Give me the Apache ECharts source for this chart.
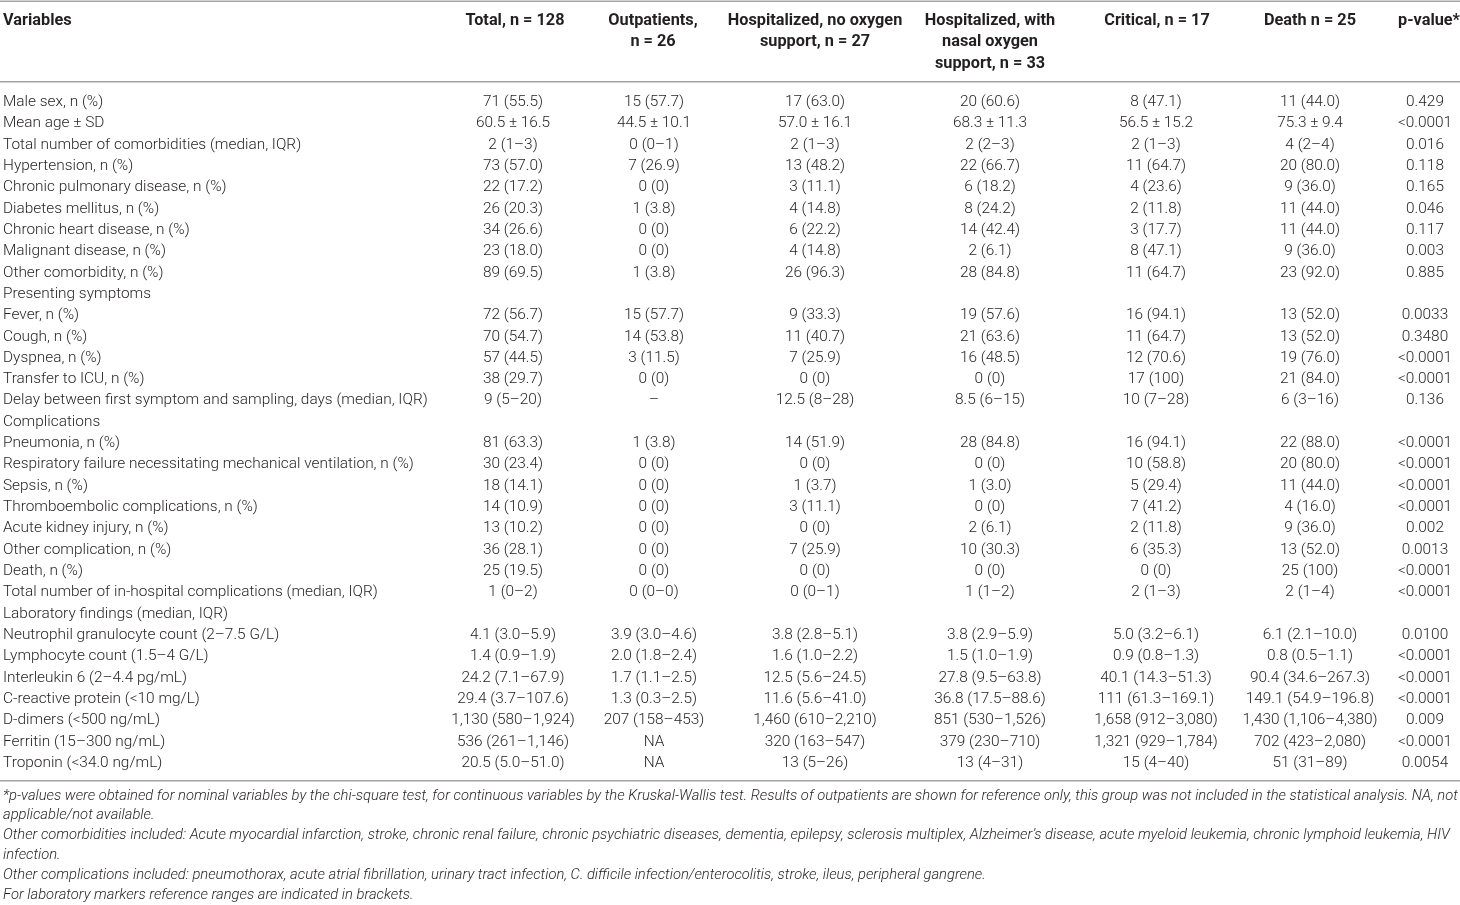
<!DOCTYPE html>
<html>
<head>
<meta charset="utf-8">
<title>Patient characteristics table</title>
<script src="https://cdn.jsdelivr.net/npm/echarts@6/dist/echarts.min.js"></script>
<style>
  html, body { margin: 0; padding: 0; background: #fff; }
  #chart { width: 1460px; height: 905px; }
</style>
</head>
<body>
<div id="chart"></div>
<script>
(function () {
  'use strict';

  var variables = [
    'Male sex, n (%)',
    'Mean age \u00b1 SD',
    'Total number of comorbidities (median, IQR)',
    'Hypertension, n (%)',
    'Chronic pulmonary disease, n (%)',
    'Diabetes mellitus, n (%)',
    'Chronic heart disease, n (%)',
    'Malignant disease, n (%)',
    'Other comorbidity, n (%)',
    'Presenting symptoms',
    'Fever, n (%)',
    'Cough, n (%)',
    'Dyspnea, n (%)',
    'Transfer to ICU, n (%)',
    'Delay between first symptom and sampling, days (median, IQR)',
    'Complications',
    'Pneumonia, n (%)',
    'Respiratory failure necessitating mechanical ventilation, n (%)',
    'Sepsis, n (%)',
    'Thromboembolic complications, n (%)',
    'Acute kidney injury, n (%)',
    'Other complication, n (%)',
    'Death, n (%)',
    'Total number of in-hospital complications (median, IQR)',
    'Laboratory findings (median, IQR)',
    'Neutrophil granulocyte count (2\u20137.5 G/L)',
    'Lymphocyte count (1.5\u20134 G/L)',
    'Interleukin 6 (2\u20134.4 pg/mL)',
    'C-reactive protein (<10 mg/L)',
    'D-dimers (<500 ng/mL)',
    'Ferritin (15\u2013300 ng/mL)',
    'Troponin (<34.0 ng/mL)'
  ];

  var total = [
    '71 (55.5)', '60.5 \u00b1 16.5', '2 (1\u20133)', '73 (57.0)', '22 (17.2)', '26 (20.3)',
    '34 (26.6)', '23 (18.0)', '89 (69.5)', '',
    '72 (56.7)', '70 (54.7)', '57 (44.5)', '38 (29.7)', '9 (5\u201320)', '',
    '81 (63.3)', '30 (23.4)', '18 (14.1)', '14 (10.9)', '13 (10.2)', '36 (28.1)',
    '25 (19.5)', '1 (0\u20132)', '',
    '4.1 (3.0\u20135.9)', '1.4 (0.9\u20131.9)', '24.2 (7.1\u201367.9)', '29.4 (3.7\u2013107.6)',
    '1,130 (580\u20131,924)', '536 (261\u20131,146)', '20.5 (5.0\u201351.0)'
  ];

  var outpatients = [
    '15 (57.7)', '44.5 \u00b1 10.1', '0 (0\u20131)', '7 (26.9)', '0 (0)', '1 (3.8)',
    '0 (0)', '0 (0)', '1 (3.8)', '',
    '15 (57.7)', '14 (53.8)', '3 (11.5)', '0 (0)', '\u2013', '',
    '1 (3.8)', '0 (0)', '0 (0)', '0 (0)', '0 (0)', '0 (0)',
    '0 (0)', '0 (0\u20130)', '',
    '3.9 (3.0\u20134.6)', '2.0 (1.8\u20132.4)', '1.7 (1.1\u20132.5)', '1.3 (0.3\u20132.5)',
    '207 (158\u2013453)', 'NA', 'NA'
  ];

  var hospNoOxygen = [
    '17 (63.0)', '57.0 \u00b1 16.1', '2 (1\u20133)', '13 (48.2)', '3 (11.1)', '4 (14.8)',
    '6 (22.2)', '4 (14.8)', '26 (96.3)', '',
    '9 (33.3)', '11 (40.7)', '7 (25.9)', '0 (0)', '12.5 (8\u201328)', '',
    '14 (51.9)', '0 (0)', '1 (3.7)', '3 (11.1)', '0 (0)', '7 (25.9)',
    '0 (0)', '0 (0\u20131)', '',
    '3.8 (2.8\u20135.1)', '1.6 (1.0\u20132.2)', '12.5 (5.6\u201324.5)', '11.6 (5.6\u201341.0)',
    '1,460 (610\u20132,210)', '320 (163\u2013547)', '13 (5\u201326)'
  ];

  var hospNasalOxygen = [
    '20 (60.6)', '68.3 \u00b1 11.3', '2 (2\u20133)', '22 (66.7)', '6 (18.2)', '8 (24.2)',
    '14 (42.4)', '2 (6.1)', '28 (84.8)', '',
    '19 (57.6)', '21 (63.6)', '16 (48.5)', '0 (0)', '8.5 (6\u201315)', '',
    '28 (84.8)', '0 (0)', '1 (3.0)', '0 (0)', '2 (6.1)', '10 (30.3)',
    '0 (0)', '1 (1\u20132)', '',
    '3.8 (2.9\u20135.9)', '1.5 (1.0\u20131.9)', '27.8 (9.5\u201363.8)', '36.8 (17.5\u201388.6)',
    '851 (530\u20131,526)', '379 (230\u2013710)', '13 (4\u201331)'
  ];

  var critical = [
    '8 (47.1)', '56.5 \u00b1 15.2', '2 (1\u20133)', '11 (64.7)', '4 (23.6)', '2 (11.8)',
    '3 (17.7)', '8 (47.1)', '11 (64.7)', '',
    '16 (94.1)', '11 (64.7)', '12 (70.6)', '17 (100)', '10 (7\u201328)', '',
    '16 (94.1)', '10 (58.8)', '5 (29.4)', '7 (41.2)', '2 (11.8)', '6 (35.3)',
    '0 (0)', '2 (1\u20133)', '',
    '5.0 (3.2\u20136.1)', '0.9 (0.8\u20131.3)', '40.1 (14.3\u201351.3)', '111 (61.3\u2013169.1)',
    '1,658 (912\u20133,080)', '1,321 (929\u20131,784)', '15 (4\u201340)'
  ];

  var death = [
    '11 (44.0)', '75.3 \u00b1 9.4', '4 (2\u20134)', '20 (80.0)', '9 (36.0)', '11 (44.0)',
    '11 (44.0)', '9 (36.0)', '23 (92.0)', '',
    '13 (52.0)', '13 (52.0)', '19 (76.0)', '21 (84.0)', '6 (3\u201316)', '',
    '22 (88.0)', '20 (80.0)', '11 (44.0)', '4 (16.0)', '9 (36.0)', '13 (52.0)',
    '25 (100)', '2 (1\u20134)', '',
    '6.1 (2.1\u201310.0)', '0.8 (0.5\u20131.1)', '90.4 (34.6\u2013267.3)', '149.1 (54.9\u2013196.8)',
    '1,430 (1,106\u20134,380)', '702 (423\u20132,080)', '51 (31\u201389)'
  ];

  var pValues = [
    '0.429', '<0.0001', '0.016', '0.118', '0.165', '0.046',
    '0.117', '0.003', '0.885', '',
    '0.0033', '0.3480', '<0.0001', '<0.0001', '0.136', '',
    '<0.0001', '<0.0001', '<0.0001', '<0.0001', '0.002', '0.0013',
    '<0.0001', '<0.0001', '',
    '0.0100', '<0.0001', '<0.0001', '<0.0001',
    '0.009', '<0.0001', '0.0054'
  ];

  var headers = [
    'Variables',
    'Total, n = 128',
    'Outpatients,\nn = 26',
    'Hospitalized, no oxygen\nsupport, n = 27',
    'Hospitalized, with\nnasal oxygen\nsupport, n = 33',
    'Critical, n = 17',
    'Death n = 25',
    'p-value*'
  ];

  var footnotes = [
    '*p-values were obtained for nominal variables by the chi-square test, for continuous variables by the Kruskal-Wallis test. Results of outpatients are shown for reference only, this group was not included in the statistical analysis. NA, not',
    'applicable/not available.',
    'Other comorbidities included: Acute myocardial infarction, stroke, chronic renal failure, chronic psychiatric diseases, dementia, epilepsy, sclerosis multiplex, Alzheimer\u2019s disease, acute myeloid leukemia, chronic lymphoid leukemia, HIV',
    'infection.',
    'Other complications included: pneumothorax, acute atrial fibrillation, urinary tract infection, C. difficile infection/enterocolitis, stroke, ileus, peripheral gangrene.',
    'For laboratory markers reference ranges are indicated in brackets.'
  ];

  // layout
  var FONT = 'Roboto, "Liberation Sans", sans-serif';
  var TEXT_COLOR = '#231f20';
  var RULE_COLOR = '#a3a3a3';
  var COL_X = [3, 513, 654, 815, 990, 1156, 1310, 1425];
  var HEADER_X = [3, 515, 653, 815, 990, 1157, 1310, 1429];

  var columns = [variables, total, outpatients, hospNoOxygen, hospNasalOxygen, critical, death, pValues];

  var cellData = [];
  variables.forEach(function (name, r) {
    columns.forEach(function (col, c) {
      if (col[r] !== '') {
        cellData.push([c, r]);
      }
    });
  });

  var graphics = [
    { type: 'rect', shape: { x: 0, y: 0.5, width: 1460, height: 1.5 }, style: { fill: RULE_COLOR } },
    { type: 'rect', shape: { x: 0, y: 81, width: 1460, height: 1.5 }, style: { fill: RULE_COLOR } },
    { type: 'rect', shape: { x: 0, y: 780, width: 1460, height: 1.5 }, style: { fill: RULE_COLOR } }
  ];

  headers.forEach(function (h, c) {
    graphics.push({
      type: 'text',
      x: HEADER_X[c],
      y: 10,
      style: {
        text: h,
        align: c === 0 ? 'left' : 'center',
        verticalAlign: 'top',
        fontFamily: FONT,
        fontWeight: 'bold',
        fontSize: 16.3,
        lineHeight: 21.5,
        fill: TEXT_COLOR
      }
    });
  });

  graphics.push({
    type: 'text',
    x: 3,
    y: 786,
    style: {
      text: footnotes.join('\n'),
      align: 'left',
      verticalAlign: 'top',
      fontFamily: FONT,
      fontStyle: 'italic',
      fontWeight: 300,
      fontSize: 14.75,
      lineHeight: 19.8,
      fill: TEXT_COLOR
    }
  });

  var myChart = echarts.init(document.getElementById('chart'), null, { renderer: 'canvas' });

  var option = {
    animation: false,
    backgroundColor: '#fff',
    grid: {
      left: 0,
      right: 0,
      top: 91.5,
      bottom: 131.3
    },
    xAxis: {
      type: 'value',
      min: 0,
      max: 1460,
      show: false
    },
    yAxis: {
      type: 'category',
      data: variables,
      inverse: true,
      show: false
    },
    graphic: graphics,
    series: [{
      type: 'custom',
      data: cellData,
      silent: true,
      renderItem: function (params, api) {
        var c = api.value(0);
        var r = api.value(1);
        var p = api.coord([COL_X[c], r]);
        return {
          type: 'text',
          x: p[0],
          y: p[1],
          style: {
            text: columns[c][r],
            align: c === 0 ? 'left' : 'center',
            verticalAlign: 'middle',
            fontFamily: FONT,
            fontWeight: 300,
            fontSize: 15.4,
            fill: TEXT_COLOR
          }
        };
      }
    }]
  };

  myChart.setOption(option);
  window.addEventListener('resize', function () {
    myChart.resize();
  });
})();
</script>
</body>
</html>
